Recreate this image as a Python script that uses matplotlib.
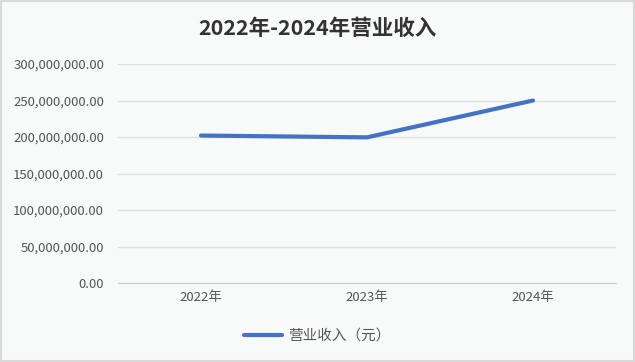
import matplotlib
matplotlib.use('Agg')
import matplotlib.pyplot as plt
from matplotlib.ticker import FuncFormatter
from matplotlib.patches import Rectangle

plt.rcParams['font.family'] = ['Noto Sans CJK SC', 'DejaVu Sans']

years = ['2022年', '2023年', '2024年']
revenue = [202000000, 199500000, 250000000]
series_name = '营业收入（元）'
title = '2022年-2024年营业收入'

bg = '#f8f9f9'
fig = plt.figure(figsize=(6.35, 3.62), dpi=100, facecolor=bg)
ax = fig.add_axes([118 / 635, 1 - 283 / 362, 498 / 635, 219 / 362])
ax.set_facecolor(bg)

x = range(len(years))
ax.plot(x, revenue, color='#4472c4', linewidth=3, solid_capstyle='round',
        label=series_name)

ax.set_xlim(-0.5, len(years) - 0.5)
ax.set_ylim(0, 300000000)
ax.set_yticks(range(0, 300000001, 50000000))
ax.yaxis.set_major_formatter(FuncFormatter(lambda v, p: f'{v:,.2f}'))
ax.set_xticks(list(x))
ax.set_xticklabels(years)
ax.tick_params(axis='both', length=0, labelsize=9.5, colors='#555555')
ax.tick_params(axis='y', pad=10)
ax.tick_params(axis='x', pad=6)

ax.grid(axis='y', color='#e0e0e0', linewidth=1)
ax.set_axisbelow(True)
for s in ['top', 'right', 'left']:
    ax.spines[s].set_visible(False)
ax.spines['bottom'].set_color('#d0d0d0')

fig.suptitle(title, x=0.5, y=1 - 28 / 362, va='center', fontsize=15.5,
             fontweight='bold', color='#333333')

leg = fig.legend(loc='center', bbox_to_anchor=(0.5, 1 - 336 / 362), frameon=False,
                 fontsize=10.5, handlelength=2.6, handletextpad=0.4,
                 labelcolor='#555555')

fig.patches.append(Rectangle((0.002, 0.003), 0.996, 0.994, transform=fig.transFigure,
                             fill=False, edgecolor='#d9d9d9', linewidth=1.5))

fig.savefig('out.png', dpi=100, facecolor=bg)
